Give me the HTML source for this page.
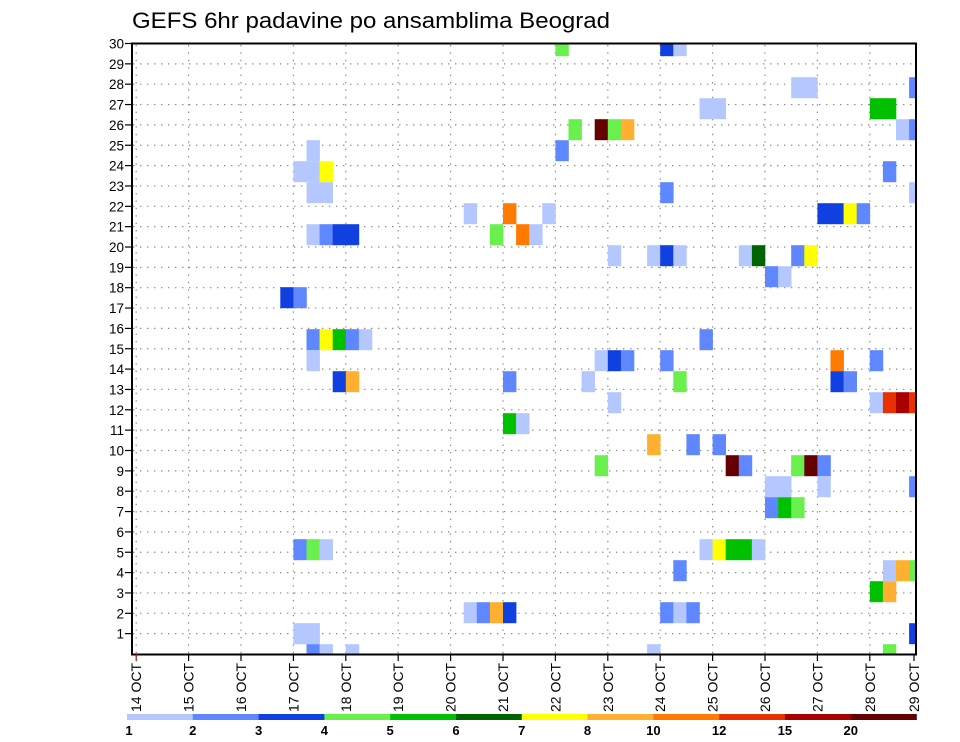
<!DOCTYPE html>
<html><head><meta charset="utf-8"><style>
html,body{margin:0;padding:0;background:#fff;}
svg{display:block;font-family:"Liberation Sans",sans-serif;}
</style></head><body>
<svg id="chart" width="960" height="742" viewBox="0 0 960 742" xmlns="http://www.w3.org/2000/svg">
<defs><clipPath id="plotclip"><rect x="132" y="43.5" width="784" height="611"/></clipPath></defs>
<text x="132" y="28" font-size="22" textLength="478" lengthAdjust="spacingAndGlyphs" fill="#000">GEFS 6hr padavine po ansamblima Beograd</text>
<g id="grid"></g>
<g id="cells" clip-path="url(#plotclip)"></g>
<rect x="132" y="43.5" width="784" height="611" fill="none" stroke="#000" stroke-width="2"/>
<g id="yaxis"></g>
<g id="xaxis"></g>
<g id="legend"></g>
</svg>
<script>
const members = [29,29,29, 27,27,27, 26,26,26,26, 25,25,25,25,25,25, 24,24, 23,23,23,23, 22,22,22,22, 21,21,21,21,21,21,21, 20,20,20,20,20,20,20, 19,19,19,19,19,19,19,19, 18,18, 17,17, 15,15,15,15,15,15, 14,14,14,14,14,14,14, 13,13,13,13,13,13,13, 12,12,12,12,12, 11,11, 10,10,10, 9,9,9,9,9,9, 8,8,8,8, 7,7,7, 5,5,5,5,5,5,5,5, 4,4,4,4, 3,3, 2,2,2,2,2,2,2, 1,1,1, 0,0,0,0,0];
const steps   = [32,40,41, 50,51,59, 43,44,56,57, 33,35,36,37,58,59, 13,32, 12,13,14,57, 13,14,40,59, 25,28,31,52,53,54,55, 13,14,15,16,27,29,30, 36,39,40,41,46,47,50,51, 48,49, 11,12, 13,14,15,16,17,43, 13,35,36,37,40,53,56, 15,16,28,34,41,53,54, 36,56,57,58,59, 28,29, 39,42,44, 35,45,46,50,51,52, 48,49,52,59, 48,49,50, 12,13,14,43,44,45,46,47, 41,57,58,59, 56,57, 25,26,27,28,40,41,42, 12,13,59, 13,14,16,39,57];
const levels  = [4,3,1, 1,1,2, 1,1,5,5, 4,12,4,8,1,2, 1,2, 1,1,7,2, 1,1,2,1, 1,9,1,3,3,7,2, 1,2,3,3,4,9,1, 1,1,3,1,1,6,2,7, 2,1, 3,2, 2,7,5,2,1,2, 1,1,3,2,2,9,2, 3,8,2,1,4,3,2, 1,1,10,11,10, 5,1, 8,2,2, 4,12,2,4,12,2, 1,1,1,2, 2,5,4, 2,4,1,1,7,5,5,1, 2,1,8,4, 5,8, 1,2,8,3,2,1,2, 1,1,3, 2,1,1,1,4];
const dayLabels = ["14","15","16","17","18","19","20","21","22","23","24","25","26","27","28","29"];
const legendLabels = ["1","2","3","4","5","6","7","8","10","12","15","20"];
const yLabels = [1,2,3,4,5,6,7,8,9,10,11,12,13,14,15,16,17,18,19,20,21,22,23,24,25,26,27,28,29,30];

const palette = ["#ffffff","#b4c8ff","#5f87ff","#1040e0","#6af04c","#00c000","#006400","#ffff00","#ffb030","#ff7a00","#e83000","#a80000","#640000"];
const NS="http://www.w3.org/2000/svg";
function mk(tag,attrs,parent){const e=document.createElementNS(NS,tag);for(const k in attrs)e.setAttribute(k,attrs[k]);parent.appendChild(e);return e;}
const X0=136.2, DAY=52.4, STEP=DAY/4;
function xDay(d){return X0+d*DAY;}
function xStep(k){return X0+k*STEP;}
function yLab(r){return 43.5+(30-r)*20.35;}
const CH=21;
function yMem(m){return 654.7-m*CH;}

const grid=document.getElementById('grid');
for(let r=1;r<=29;r++){
  const l=mk('line',{x1:133,x2:915,y1:yLab(r),y2:yLab(r),stroke:'#8a8a8a','stroke-width':1.2,'stroke-dasharray':'1.4 5.6'},grid);
  
  
}
for(let d=0;d<15;d++){
  const l=mk('line',{x1:xDay(d),x2:xDay(d),y1:45,y2:654,stroke:'#8a8a8a','stroke-width':1.2,'stroke-dasharray':'1.4 6'},grid);
  
  
}

const cells=document.getElementById('cells');
for(let i=0;i<members.length;i++){
  const c=mk('rect',{x:xStep(steps[i]),y:yMem(members[i])-CH/2,width:STEP+0.3,height:CH,fill:palette[levels[i]]},cells);
  
  
}

const ya=document.getElementById('yaxis');
for(const r of yLabels){
  const y=yLab(r);
  const t=mk('line',{x1:125,x2:132,y1:y,y2:y,stroke:'#000','stroke-width':1.2},ya);
  
  
  const tx=mk('text',{x:124,y:y+5,'font-size':13.5,'text-anchor':'end',fill:'#000'},ya);
  tx.textContent=String(r);
  
  
}

const xa=document.getElementById('xaxis');
for(let d=0;d<dayLabels.length;d++){
  const x = d<15 ? xDay(d) : 914;
  const t=mk('line',{x1:x,x2:x,y1:654,y2:661,stroke:d===0?'#c00':'#000','stroke-width':1.2},xa);
  
  
  const tx=mk('text',{x:0,y:0,'font-size':14,fill:'#000',transform:`translate(${x+5},712) rotate(-90)`},xa);
  tx.setAttribute('xml:space','preserve');
  tx.textContent=dayLabels[d]+"  OCT";
  
  
}

const lg=document.getElementById('legend');
const LX=127, LW=(916.5-127)/12;
for(let i=0;i<12;i++){
  const r=mk('rect',{x:LX+i*LW,y:714,width:LW+0.3,height:6,fill:palette[i+1]},lg);
  
  
  const t=mk('text',{x:LX+i*LW+(i===0?2:0),y:735,'font-size':13,'font-weight':'bold','text-anchor':'middle',fill:'#000'},lg);
  t.textContent=legendLabels[i];
  
  
}
</script>
</body></html>
